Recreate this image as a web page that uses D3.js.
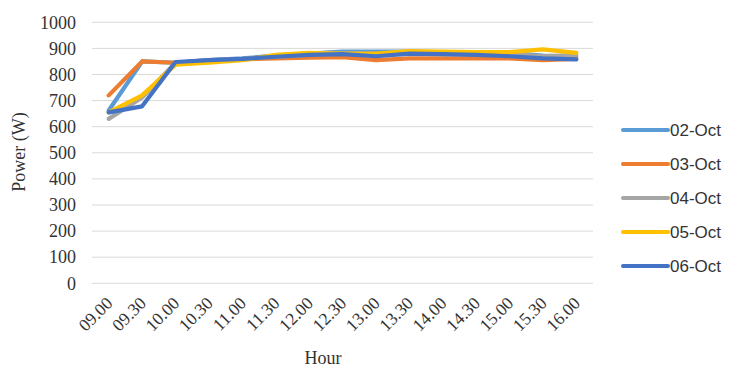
<!DOCTYPE html>
<html>
<head>
<meta charset="utf-8">
<script src="https://cdn.jsdelivr.net/npm/d3@7"></script>
<style>
  html, body { margin: 0; padding: 0; background: #fff; }
  svg { display: block; }
</style>
</head>
<body>
<svg id="chart" width="729" height="367"></svg>
<script>
// Half-hourly sample times
const hours = ["09.00","09.30","10.00","10.30","11.00","11.30","12.00","12.30","13.00","13.30","14.00","14.30","15.00","15.30","16.00"];

// Measured power (W) per day
const oct02 = [662, 850, 845, 855, 862, 872, 880, 888, 888, 888, 885, 882, 882, 872, 868];
const oct03 = [720, 850, 845, 852, 858, 862, 865, 866, 855, 862, 862, 862, 862, 855, 860];
const oct04 = [630, 712, 845, 855, 860, 868, 875, 880, 878, 878, 878, 878, 878, 870, 875];
const oct05 = [655, 720, 838, 845, 855, 875, 883, 880, 880, 890, 888, 886, 886, 896, 883];
const oct06 = [655, 678, 848, 855, 860, 868, 875, 878, 870, 880, 878, 875, 870, 862, 858];

const seriesNames = ["02-Oct", "03-Oct", "04-Oct", "05-Oct", "06-Oct"];
const seriesValues = [oct02, oct03, oct04, oct05, oct06];
const seriesColors = ["#5B9BD5", "#ED7D31", "#A5A5A5", "#FFC000", "#4472C4"];

const yTicks = [0, 100, 200, 300, 400, 500, 600, 700, 800, 900, 1000];

const svg = d3.select("#chart");
const plot = { left: 92, right: 593, top: 22.3, bottom: 283.3 };
const textColor = "#333333";

const x = d3.scaleBand().domain(hours).range([plot.left, plot.right]).padding(0);
const y = d3.scaleLinear().domain([0, 1000]).range([plot.bottom, plot.top]);
const cx = d => x(d) + x.bandwidth() / 2;

// Horizontal gridlines
svg.append("g")
  .selectAll("line")
  .data(yTicks)
  .join("line")
  .attr("x1", plot.left).attr("x2", plot.right)
  .attr("y1", d => y(d)).attr("y2", d => y(d))
  .attr("stroke", "#d9d9d9").attr("stroke-width", 1);

// Y axis tick labels
const yAxis = d3.axisLeft(y).tickValues(yTicks).tickSize(0).tickPadding(0).tickFormat(d3.format("d"));
const gy = svg.append("g").attr("transform", "translate(76,0)").call(yAxis);
gy.select(".domain").remove();
gy.selectAll("text")
  .attr("font-family", "'Liberation Serif', 'Times New Roman', serif")
  .attr("font-size", 18).attr("fill", textColor);

// X axis tick labels, rotated
const xAxis = d3.axisBottom(x).tickSize(0).tickPadding(0);
const gx = svg.append("g").attr("transform", `translate(0,${plot.bottom})`).call(xAxis);
gx.select(".domain").remove();
gx.selectAll("text")
  .attr("font-family", "'Liberation Serif', 'Times New Roman', serif")
  .attr("font-size", 17.5).attr("fill", textColor)
  .attr("text-anchor", "end")
  .attr("dy", 0)
  .attr("transform", "translate(5,21) rotate(-45)");

// Series lines
const line = d3.line().x((d, i) => cx(hours[i])).y(d => y(d));
svg.append("g")
  .selectAll("path")
  .data(seriesValues)
  .join("path")
  .attr("d", d => line(d))
  .attr("fill", "none")
  .attr("stroke", (d, i) => seriesColors[i])
  .attr("stroke-width", 4.2)
  .attr("stroke-linejoin", "round")
  .attr("stroke-linecap", "round");

// Axis titles
svg.append("text")
  .attr("transform", "translate(25,152) rotate(-90)")
  .attr("text-anchor", "middle")
  .attr("font-family", "'Liberation Serif', 'Times New Roman', serif")
  .attr("font-size", 18).attr("fill", textColor)
  .text("Power (W)");

svg.append("text")
  .attr("x", 323).attr("y", 364)
  .attr("text-anchor", "middle")
  .attr("font-family", "'Liberation Serif', 'Times New Roman', serif")
  .attr("font-size", 18).attr("fill", textColor)
  .text("Hour");

// Legend
const legend = svg.append("g")
  .selectAll("g")
  .data(seriesNames)
  .join("g")
  .attr("transform", (d, i) => `translate(623,${130 + i * 34})`);
legend.append("line")
  .attr("x1", 0).attr("x2", 45)
  .attr("stroke", (d, i) => seriesColors[i])
  .attr("stroke-width", 4).attr("stroke-linecap", "round");
legend.append("text")
  .attr("x", 47).attr("dy", "0.36em")
  .attr("font-family", "'Liberation Sans', Arial, sans-serif")
  .attr("font-size", 17).attr("fill", textColor)
  .text(d => d);
</script>
</body>
</html>
